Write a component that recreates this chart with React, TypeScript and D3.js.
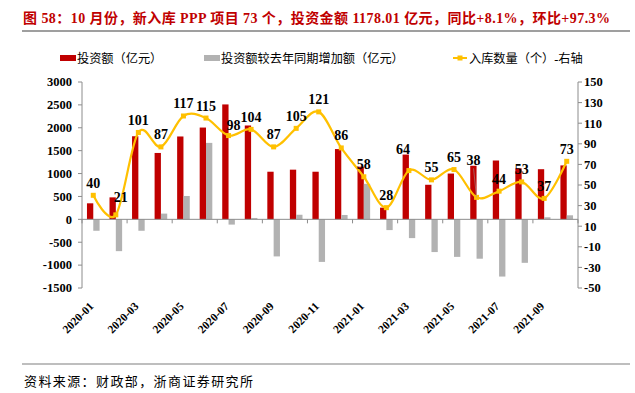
import * as d3 from "d3";

const months = [
  "2020-01", "2020-02", "2020-03", "2020-04", "2020-05", "2020-06", "2020-07", "2020-08",
  "2020-09", "2020-10", "2020-11", "2020-12", "2021-01", "2021-02", "2021-03", "2021-04",
  "2021-05", "2021-06", "2021-07", "2021-08", "2021-09", "2021-10",
];
// 投资额（亿元）
const investment = [
  350, 480, 1815, 1450, 1810, 2005, 2510, 2050, 1040, 1085, 1040, 1535,
  1150, 255, 1415, 755, 1000, 1170, 1285, 1115, 1095, 1178,
];
// 投资额较去年同期增加额（亿元）
const yoyChange = [
  -250, -695, -250, 125, 510, 1670, -115, 30, -810, 100, -930, 95,
  775, -235, -410, -715, -820, -860, -1250, -950, 45, 88,
];
// 入库数量（个）
const projects = [40, 21, 101, 87, 117, 115, 98, 104, 87, 105, 121, 86, 58, 28, 64, 55, 65, 38, 44, 53, 37, 73];

const leftTicks = [-1500, -1000, -500, 0, 500, 1000, 1500, 2000, 2500, 3000];
const rightTicks = [-50, -30, -10, 10, 30, 50, 70, 90, 110, 130, 150];

const titleText = "图 58：10 月份，新入库 PPP 项目 73 个，投资金额 1178.01 亿元，同比+8.1%，环比+97.3%";
const sourceText = "资料来源：财政部，浙商证券研究所";

const RED = "#C00000";
const GREY = "#B2B2B2";
const GOLD = "#FFC000";
const AXIS = "#8C8C8C";
const FONT = "'Liberation Serif', 'Times New Roman', 'Noto Sans CJK SC', serif";

// nudges for a few data labels that Excel moved off the default spot
const labelNudge: Record<number, [number, number]> = {
  1: [5, -5],
  6: [5, 2],
  14: [-6, -9],
  17: [-3, -25],
};

export default function App() {
  const width = 635;
  const height = 393;
  const left = 82;
  const right = 578;
  const top = 82;
  const bottom = 288;

  const x = d3.scaleBand<string>().domain(months).range([left, right]).paddingInner(0).paddingOuter(0);
  const bw = x.bandwidth();
  const yL = d3.scaleLinear().domain([-1500, 3000]).range([bottom, top]);
  const yR = d3.scaleLinear().domain([-50, 150]).range([bottom, top]);

  const barW = bw * 0.28;
  const cx = (m: string) => (x(m) ?? 0) + bw / 2;

  const line = d3
    .line<number>()
    .x((_, i) => cx(months[i]))
    .y((d) => yR(d))
    .curve(d3.curveCardinal.tension(0));

  const tickIdx = d3.range(0, months.length + 1, 2);

  return (
    <svg width={width} height={height} style={{position: "absolute", left: 0, top: 0}} fontFamily={FONT}>
      <rect width={width} height={height} fill="#fff" />
      <text x={23} y={23} fill={RED} fontSize={14} fontWeight="bold" textLength={587} lengthAdjust="spacing">{titleText}</text>
      <line x1={22} x2={630} y1={31} y2={31} stroke="#7f7f7f" strokeWidth={1.5} />

      {/* legend */}
      <g fontSize={12.2} fill="#000">
        <rect x={60} y={55} width={16} height={6} fill={RED} />
        <text x={77} y={62.5}>投资额（亿元）</text>
        <rect x={204} y={55} width={16} height={6} fill={GREY} />
        <text x={221} y={62.5}>投资额较去年同期增加额（亿元）</text>
        <line x1={453} x2={467} y1={58} y2={58} stroke={GOLD} strokeWidth={2} />
        <rect x={457.5} y={55.5} width={5} height={5} fill={GOLD} />
        <text x={469} y={62.5}>入库数量（个）-右轴</text>
      </g>

      {/* bars */}
      {months.map((m, i) => (
        <g key={m}>
          <rect x={cx(m) - barW} y={yL(Math.max(0, investment[i]))} width={barW}
                height={Math.abs(yL(investment[i]) - yL(0))} fill={RED} />
          <rect x={cx(m)} y={yL(Math.max(0, yoyChange[i]))} width={barW}
                height={Math.abs(yL(yoyChange[i]) - yL(0))} fill={GREY} />
        </g>
      ))}

      {/* axes */}
      <line x1={left} x2={left} y1={top} y2={bottom} stroke={AXIS} />
      <line x1={right} x2={right} y1={top} y2={bottom} stroke={AXIS} />
      <line x1={left} x2={right} y1={yL(0)} y2={yL(0)} stroke={AXIS} />
      {tickIdx.map((i) => {
        const xp = left + i * bw;
        return <line key={i} x1={xp} x2={xp} y1={yL(0)} y2={yL(0) + 4} stroke={AXIS} />;
      })}
      <g fontSize={12.5} fontWeight="bold" fill="#000">
        {leftTicks.map((t) => (
          <g key={t}>
            <line x1={left - 4} x2={left} y1={yL(t)} y2={yL(t)} stroke={AXIS} />
            <text x={left - 10} y={yL(t)} dy="0.35em" textAnchor="end">{t}</text>
          </g>
        ))}
        {rightTicks.map((t) => (
          <g key={t}>
            <line x1={right} x2={right + 4} y1={yR(t)} y2={yR(t)} stroke={AXIS} />
            <text x={right + 6} y={yR(t)} dy="0.35em" textAnchor="start">{t}</text>
          </g>
        ))}
      </g>
      <g fontSize={11.5} fontWeight="bold" fill="#000">
        {months.filter((_, i) => i % 2 === 0).map((m) => (
          <text key={m} textAnchor="end" transform={`translate(${cx(m) + 1},${307}) rotate(-45)`}>{m}</text>
        ))}
      </g>

      {/* line series */}
      <path d={line(projects) ?? ""} fill="none" stroke={GOLD} strokeWidth={2.2} />
      {projects.map((v, i) => (
        <rect key={i} x={cx(months[i]) - 2.5} y={yR(v) - 2.5} width={5} height={5} fill={GOLD} />
      ))}
      {projects.map((v, i) => {
        const [dx, dy] = labelNudge[i] ?? [0, 0];
        const px = cx(months[i]);
        const py = yR(v);
        return (
          <g key={i}>
            {dy < -15 && (
              <line x1={px + dx} x2={px} y1={py + dy - 4} y2={py} stroke="#999" strokeWidth={0.6} />
            )}
            <text x={px + dx} y={py - 7.5 + dy} textAnchor="middle" fontSize={14} fontWeight="bold" fill="#000">{v}</text>
          </g>
        );
      })}

      <line x1={22} x2={630} y1={364} y2={364} stroke="#7f7f7f" strokeWidth={1.2} />
      <text x={24} y={386} fontSize={13} fill="#000" textLength={229} lengthAdjust="spacing">{sourceText}</text>
    </svg>
  );
}
